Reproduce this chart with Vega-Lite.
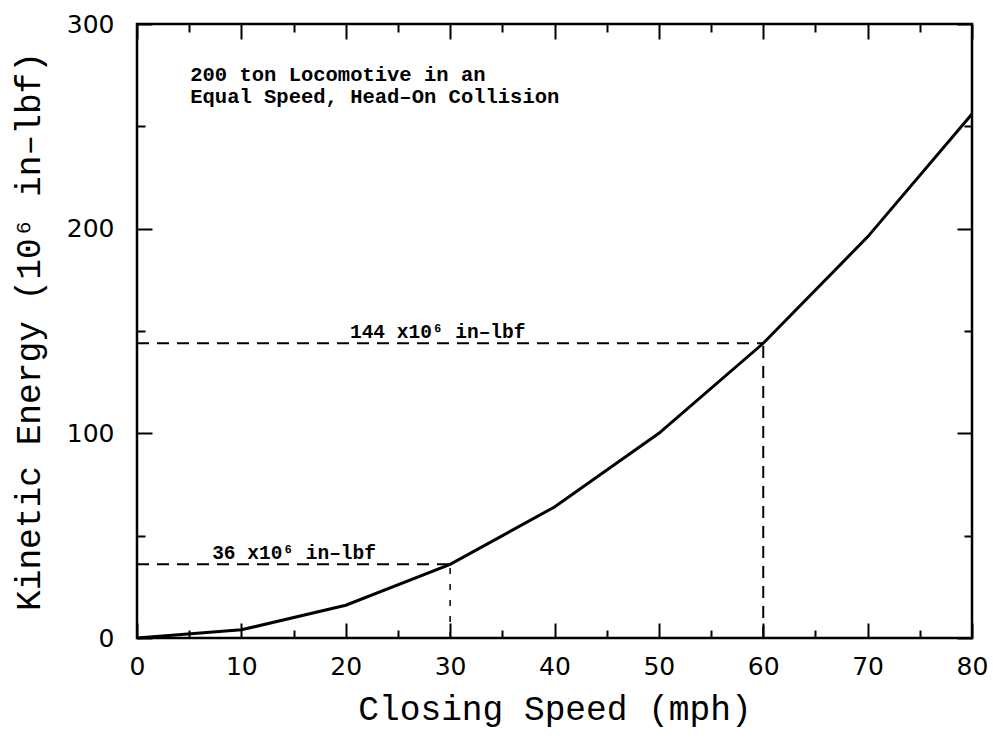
{
  "$schema": "https://vega.github.io/schema/vega-lite/v6.json",
  "width": 835,
  "height": 614,
  "autosize": {"type": "none"},
  "padding": {"left": 137, "top": 24, "right": 21, "bottom": 108},
  "background": "white",
  "config": {
    "view": {"stroke": "black", "strokeWidth": 2.5},
    "axis": {"grid": false, "domain": false, "labelFlush": false, "labelOverlap": false, "tickColor": "black", "tickWidth": 2, "labelColor": "black", "titleColor": "black", "labelFont": "DejaVu Sans", "labelFontSize": 25, "titleFont": "Liberation Mono", "titleFontSize": 34.5, "titleFontWeight": "normal"}
  },
  "datasets": {
    "curve": [
      {"speed": 0, "energy": 0},
      {"speed": 10, "energy": 4},
      {"speed": 20, "energy": 16},
      {"speed": 30, "energy": 36},
      {"speed": 40, "energy": 64},
      {"speed": 50, "energy": 100},
      {"speed": 60, "energy": 144},
      {"speed": 70, "energy": 196},
      {"speed": 80, "energy": 256}
    ],
    "guides": [
      {"group": "144", "x": 0, "x2": 60, "y": 144, "y2": 144},
      {"group": "144", "x": 60, "x2": 60, "y": 0, "y2": 144},
      {"group": "36", "x": 0, "x2": 30, "y": 36, "y2": 36}
    ],
    "guides30": [
      {"x": 30, "y": 0, "y2": 36}
    ],
    "labels": [
      {"x": 20.4, "y": 144, "label": "144 x10⁶ in–lbf"},
      {"x": 7.2, "y": 36, "label": "36 x10⁶ in–lbf"}
    ],
    "note": [
      {"x": 5.1, "y": 272.2, "label": "200 ton Locomotive in an"},
      {"x": 5.1, "y": 261.4, "label": "Equal Speed, Head–On Collision"}
    ]
  },
  "resolve": {"axis": {"x": "independent", "y": "independent"}},
  "layer": [
    {
      "data": {"name": "curve"},
      "mark": {"type": "line", "color": "black", "strokeWidth": 3},
      "encoding": {
        "x": {"field": "speed", "type": "quantitative", "scale": {"domain": [0, 80], "nice": false},
          "axis": {"orient": "bottom", "values": [0,5,10,15,20,25,30,35,40,45,50,55,60,65,70,75,80],
            "labelExpr": "datum.value % 10 === 0 ? datum.label : ''",
            "tickSize": {"condition": {"test": "datum.value % 10 === 0", "value": -15}, "value": -8},
            "labelPadding": 31, "title": "Closing Speed (mph)", "titlePadding": 6}},
        "y": {"field": "energy", "type": "quantitative", "scale": {"domain": [0, 300], "nice": false},
          "axis": {"orient": "left", "values": [0,50,100,150,200,250,300],
            "labelExpr": "datum.value % 100 === 0 ? datum.label : ''",
            "tickSize": {"condition": {"test": "datum.value % 100 === 0", "value": -15}, "value": -8},
            "labelPadding": 38, "title": "Kinetic Energy (10⁶ in–lbf)", "titlePadding": 20}}
      }
    },
    {
      "data": {"name": "curve"},
      "mark": {"type": "line", "opacity": 0},
      "encoding": {
        "x": {"field": "speed", "type": "quantitative", "scale": {"domain": [0, 80], "nice": false},
          "axis": {"orient": "top", "values": [0,5,10,15,20,25,30,35,40,45,50,55,60,65,70,75,80], "labels": false, "title": null,
            "tickSize": {"condition": {"test": "datum.value % 10 === 0", "value": -15}, "value": -8}}},
        "y": {"field": "energy", "type": "quantitative", "scale": {"domain": [0, 300], "nice": false},
          "axis": {"orient": "right", "values": [0,50,100,150,200,250,300], "labels": false, "title": null,
            "tickSize": {"condition": {"test": "datum.value % 100 === 0", "value": -15}, "value": -8}}}
      }
    },
    {
      "data": {"name": "guides"},
      "mark": {"type": "rule", "color": "black", "strokeWidth": 2, "strokeDash": [12, 8]},
      "encoding": {
        "x": {"field": "x", "type": "quantitative", "axis": null},
        "x2": {"field": "x2"},
        "y": {"field": "y", "type": "quantitative", "axis": null},
        "y2": {"field": "y2"}
      }
    },
    {
      "data": {"name": "guides30"},
      "mark": {"type": "rule", "color": "black", "strokeWidth": 1.5, "strokeDash": [6, 10]},
      "encoding": {
        "x": {"field": "x", "type": "quantitative", "axis": null},
        "y": {"field": "y", "type": "quantitative", "axis": null},
        "y2": {"field": "y2"}
      }
    },
    {
      "data": {"name": "labels"},
      "mark": {"type": "text", "align": "left", "baseline": "alphabetic", "dy": -5, "font": "Liberation Mono", "fontSize": 19.5, "fontWeight": "bold", "color": "black"},
      "encoding": {
        "x": {"field": "x", "type": "quantitative", "axis": null},
        "y": {"field": "y", "type": "quantitative", "axis": null},
        "text": {"field": "label"}
      }
    },
    {
      "data": {"name": "note"},
      "mark": {"type": "text", "align": "left", "baseline": "alphabetic", "font": "Liberation Mono", "fontSize": 20.5, "fontWeight": "bold", "color": "black"},
      "encoding": {
        "x": {"field": "x", "type": "quantitative", "axis": null},
        "y": {"field": "y", "type": "quantitative", "axis": null},
        "text": {"field": "label"}
      }
    }
  ]
}
